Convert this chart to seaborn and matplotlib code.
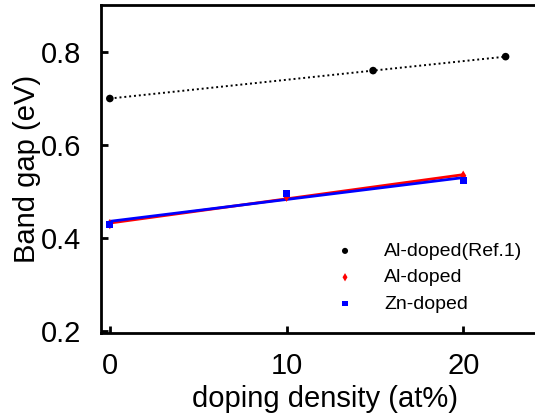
import matplotlib
matplotlib.use("Agg")
import matplotlib.pyplot as plt
import seaborn as sns
import numpy as np
import pandas as pd

# data
ref_x = [0, 14.9, 22.4]
ref_gap = [0.700, 0.760, 0.790]
al_x = [0, 10, 20]
al_gap = [0.430, 0.489, 0.534]
zn_x = [0, 10, 20]
zn_gap = [0.430, 0.495, 0.524]
x_ticks = [0, 10, 20]
y_ticks = [0.2, 0.4, 0.6, 0.8]

sns.set_theme(style="ticks")
plt.rcParams["font.family"] = ["Liberation Sans", "DejaVu Sans"]
plt.rcParams["text.color"] = "black"
plt.rcParams["axes.labelcolor"] = "black"
plt.rcParams["xtick.color"] = "black"
plt.rcParams["ytick.color"] = "black"

W, H = 535, 416
fig = plt.figure(figsize=(W / 100, H / 100), dpi=100)
ax = fig.add_axes([101 / W, (416 - 333) / H, (548 - 101) / W, (333 - 5) / H])

ref = pd.DataFrame({"x": ref_x, "y": ref_gap})
al = pd.DataFrame({"x": al_x, "y": al_gap})
zn = pd.DataFrame({"x": zn_x, "y": zn_gap})

# fitted lines
sns.regplot(data=al, x="x", y="y", scatter=False, ci=None, color="red",
            line_kws={"lw": 2}, truncate=True, ax=ax)
sns.regplot(data=zn, x="x", y="y", scatter=False, ci=None, color="blue",
            line_kws={"lw": 2}, truncate=True, ax=ax)
sns.lineplot(data=ref, x="x", y="y", color="black", lw=1.4, ls=(0, (1, 1.5)), ax=ax)

sns.scatterplot(data=ref, x="x", y="y", color="black", marker="o", s=30,
                edgecolor="none", label="Al-doped(Ref.1)", ax=ax, zorder=5)
sns.scatterplot(data=al, x="x", y="y", color="red", marker="d", s=28,
                edgecolor="none", label="Al-doped", ax=ax, zorder=5)
sns.scatterplot(data=zn, x="x", y="y", color="blue", marker="s", s=24,
                edgecolor="none", label="Zn-doped", ax=ax, zorder=5)

ax.set_xlim(-0.5, 24.8)
ax.set_ylim(0.196, 0.901)
ax.set_xticks(x_ticks)
ax.set_yticks(y_ticks)
ax.set_xticklabels([str(t) for t in x_ticks])
ax.set_yticklabels([f"{t:.1f}" for t in y_ticks])
ax.tick_params(direction="in", length=5, width=2, labelsize=21, pad=14,
               colors="black")
ax.tick_params(axis="y", pad=14)
for s in ax.spines.values():
    s.set_linewidth(2)
    s.set_color("black")

ax.set_xlabel("doping density (at%)", fontsize=21, labelpad=3, color="black")
ax.set_ylabel("Band gap (eV)", fontsize=21, labelpad=0, color="black")

leg = ax.legend(loc="upper left", bbox_to_anchor=(0.485, 0.3),
                frameon=False, fontsize=14, handletextpad=1.0, labelspacing=0.45,
                markerscale=0.8, borderaxespad=0)
for t in leg.get_texts():
    t.set_color("black")

fig.savefig("out.png", dpi=100)
